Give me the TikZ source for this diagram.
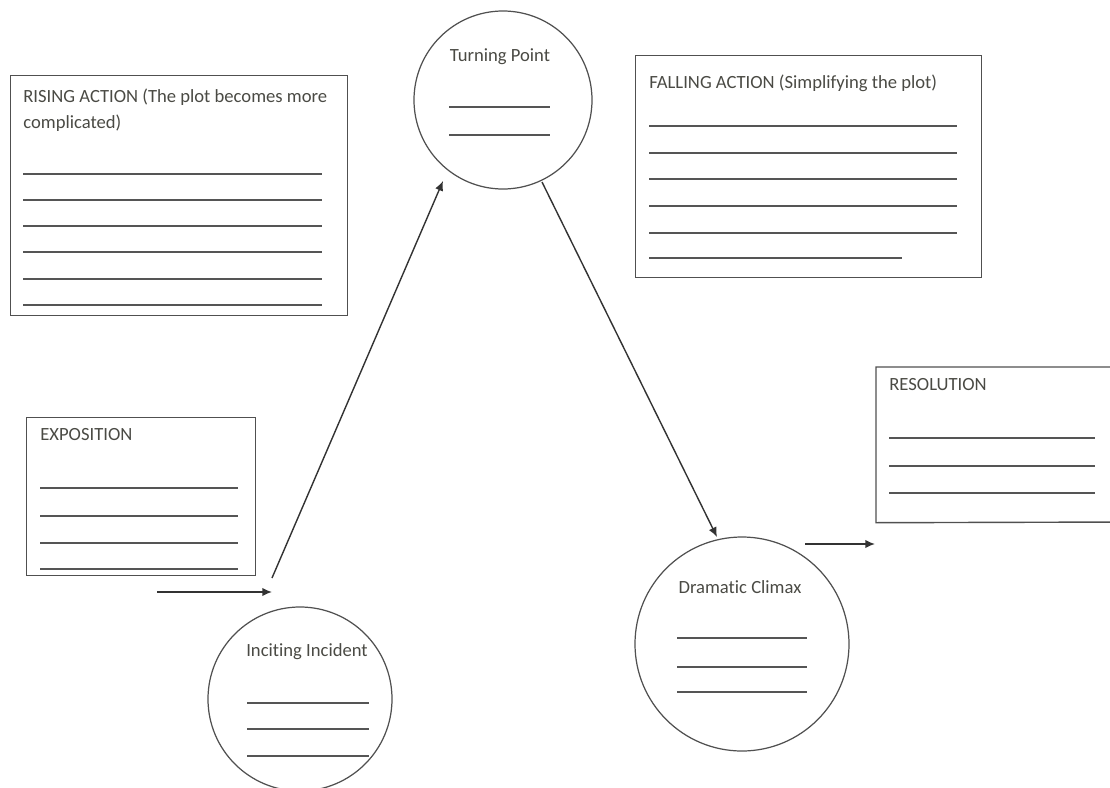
\documentclass[tikz,border=0pt]{standalone}
\usepackage{fontspec}
\setmainfont{Carlito}[Ligatures=CommonOff]
\usetikzlibrary{arrows.meta}
\definecolor{txt}{HTML}{4A4A44}
\definecolor{edge}{HTML}{505050}
\definecolor{rule}{HTML}{555555}
\tikzset{
  box/.style={draw=edge, line width=0.8pt, anchor=north west, inner sep=0pt},
  circ/.style={draw=edge, line width=0.7pt, circle, inner sep=0pt},
  lbl/.style={text=txt, font=\fontsize{10.6}{14.4}\selectfont, inner sep=0pt, align=left},
  wline/.style={draw=rule, line width=0.7pt},
  arr/.style={draw=black!80, line width=0.8pt, -{Latex[length=5.5pt,width=4.8pt]}}
}
\begin{document}
\begin{tikzpicture}[x=0.02cm,y=-0.02cm]
\useasboundingbox (0,0) rectangle (1110,788);
\clip (0,0) rectangle (1110,788);

% Rising action
\node[box, minimum width=337*0.02cm, minimum height=240*0.02cm] (rise) at (10,75) {};
\node[lbl, anchor=north west] (risetxt) at (23,89) {RISING ACTION (The plot becomes more\\complicated)};
\foreach \y in {174,200,226,252,279,305} \draw[wline] (23,\y) -- (322,\y);

% Turning point
\node[circ, minimum size=178*0.02cm] (turn) at (503,100) {};
\node[lbl] (turntxt) at (500,57) {Turning Point};
\foreach \y in {107,135} \draw[wline] (449,\y) -- (550,\y);

% Falling action
\node[box, minimum width=346*0.02cm, minimum height=222*0.02cm] (fall) at (635,55) {};
\node[lbl, anchor=west] (falltxt) at (649,83) {FALLING ACTION (Simplifying the plot)};
\foreach \y in {126,153,179,206,233} \draw[wline] (649,\y) -- (957,\y);
\draw[wline] (649,258) -- (902,258);

% Exposition
\node[box, minimum width=229*0.02cm, minimum height=158*0.02cm] (expo) at (26,417) {};
\node[lbl, anchor=west] (expotxt) at (40,435) {EXPOSITION};
\foreach \y in {488,516,543,569} \draw[wline] (40,\y) -- (238,\y);

% Inciting incident
\node[circ, minimum size=184*0.02cm] (incite) at (300,699) {};
\node[lbl] (incitetxt) at (307,652) {Inciting Incident};
\foreach \y in {703,729,756} \draw[wline] (247,\y) -- (369,\y);

% Dramatic climax
\node[circ, minimum size=214*0.02cm] (climax) at (742,644) {};
\node[lbl] (climaxtxt) at (740,587) {Dramatic Climax};
\foreach \y in {638,667,692} \draw[wline] (677,\y) -- (807,\y);

% Resolution (runs off the right edge: no right border)
\node[anchor=north west, inner sep=0pt, minimum width=234*0.02cm, minimum height=155*0.02cm] (reso) at (876,367) {};
\draw[draw=edge, line width=0.8pt] (1130,367) -- (reso.north west) -- (reso.south west) -- (1130,522);
\node[lbl, anchor=west] (resotxt) at (889,385) {RESOLUTION};
\foreach \y in {438,466,493} \draw[wline] (889,\y) -- (1095,\y);

% Connectors
\coordinate (e1) at (157,592);
\coordinate (e2) at (272,592);
\coordinate (r1) at (272,578);
\coordinate (r2) at (443,181);
\coordinate (f1) at (542,182);
\coordinate (f2) at (717,537);
\coordinate (s1) at (805,544);
\coordinate (s2) at (875,544);
\draw[arr] (e1) -- (e2);
\draw[arr] (r1) -- (r2);
\draw[arr] (f1) -- (f2);
\draw[arr] (s1) -- (s2);
\end{tikzpicture}
\end{document}
